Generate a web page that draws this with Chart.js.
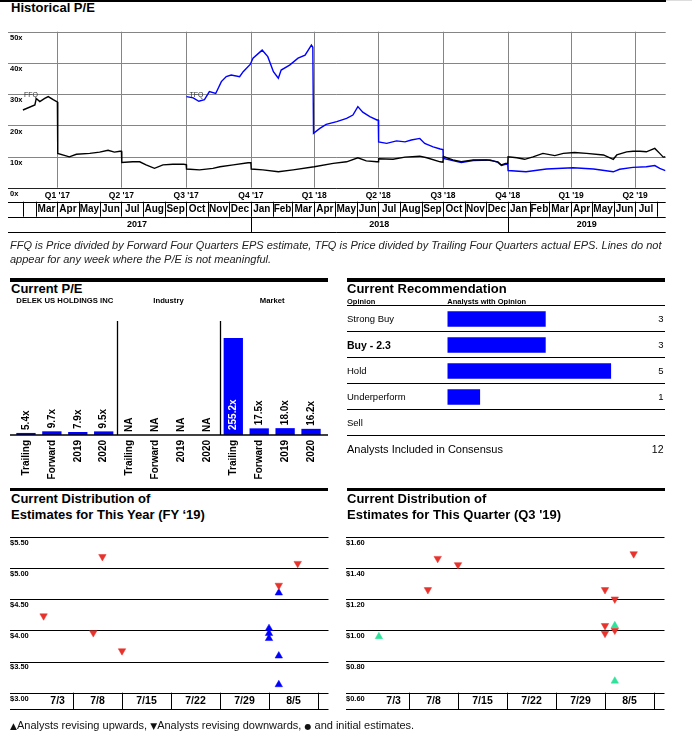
<!DOCTYPE html>
<html>
<head>
<meta charset="utf-8">
<script src="https://cdn.jsdelivr.net/npm/chart.js@4.4.1/dist/chart.umd.min.js"></script>
<style>
  body { margin: 0; width: 692px; height: 744px; background: #fff; position: relative; overflow: hidden;
         font-family: "Liberation Sans", Arial, sans-serif; color: #000; }
  canvas, .abs { position: absolute; }
  .title { font-weight: bold; font-size: 13px; line-height: 13px; white-space: nowrap; }
  .bar { background: #000; height: 3.4px; }
  .note { font-style: italic; font-size: 11px; line-height: 14px; color: #222; white-space: nowrap; }
  .rline { position: absolute; left: 347px; width: 318px; height: 1px; background: #000; }
  .rlab { position: absolute; left: 347px; height: 26px; line-height: 26px; font-size: 9.5px; white-space: nowrap; }
  .rnum { position: absolute; right: 28.5px; height: 26px; line-height: 26px; font-size: 9.5px; text-align: right; }
  .glyph { font-family: "DejaVu Sans", sans-serif; font-size: 9px; }
</style>
</head>
<body>
<div class="abs" style="left:0;top:0;width:666px;height:1.5px;background:#000"></div>
<div class="abs" style="left:666px;top:0;width:26px;height:1px;background:#ddd"></div>
<div class="abs title" style="left:11px;top:0.7px">Historical P/E</div>
<canvas id="hist" width="692" height="240" style="left:0;top:0"></canvas>
<div class="abs note" style="left:10px;top:238px">FFQ is Price divided by Forward Four Quarters EPS estimate, TFQ is Price divided by Trailing Four Quarters actual EPS. Lines do not<br>appear for any week where the P/E is not meaningful.</div>

<div class="abs bar" style="left:10px;top:278.3px;width:318px"></div>
<div class="abs title" style="left:11px;top:282.3px">Current P/E</div>
<canvas id="pe" width="340" height="195" style="left:0;top:290px"></canvas>

<div class="abs bar" style="left:347px;top:278.3px;width:318px"></div>
<div class="abs title" style="left:347px;top:282.3px">Current Recommendation</div>
<div class="abs" style="left:347px;top:297px;font-size:7.5px;font-weight:bold;line-height:9px">Opinion</div>
<div class="abs" style="left:447.3px;top:297px;font-size:7.5px;font-weight:bold;line-height:9px">Analysts with Opinion</div>
<div id="recRows"></div>
<canvas id="rec" width="230" height="130" style="left:440px;top:305.7px"></canvas>

<div class="abs bar" style="left:10px;top:488px;width:318px;height:3.3px"></div>
<div class="abs title" style="left:11px;top:491.3px;line-height:15.4px">Current Distribution of<br>Estimates for This Year (FY ‘19)</div>
<canvas id="fy" width="340" height="200" style="left:0;top:525px"></canvas>

<div class="abs bar" style="left:347px;top:488px;width:318px;height:3.3px"></div>
<div class="abs title" style="left:347px;top:491.3px;line-height:15.4px">Current Distribution of<br>Estimates for This Quarter (Q3 '19)</div>
<canvas id="q3" width="340" height="200" style="left:336.3px;top:525px"></canvas>

<div class="abs" style="left:10px;top:718px;font-size:11px;line-height:14px;white-space:nowrap;color:#111"><span class="glyph">▲</span>Analysts revising upwards, <span class="glyph">▼</span>Analysts revising downwards, <span class="glyph" style="font-size:8px">●</span> and initial estimates.</div>

<script>
const FONT = '"Liberation Sans", Arial, sans-serif';

// ---- Historical P/E (x = days since 1 Jan 2017) ----
const ffqDays = [41,58,60,65,72,77,84,89,90,90.5,107,117,136,150,162,171,179,181,181.5,197,207,216,228,240,254,269,273,273.5,292,311,321,340,361,365,365.5,382,404,425,455,482,501,517,529,544,546,546.5,567,584,605,615,634,638,638.5,652,664,681,700,716,721,727,730,730.5,743,754,766,780,797,809,825,842,866,880,885,899,908,918,927,939,946,951,954];
const ffqVals = [24.9,26.5,28.6,27.6,28.6,29.2,28.2,27.6,27.5,11.0,9.9,10.7,11.0,11.4,12.0,11.4,11.7,11.7,8.1,8.3,8.3,7.3,6.2,7.3,7.5,7.5,7.4,6.0,5.7,6.2,6.7,7.3,8.0,8.0,6.0,5.7,5.1,5.7,6.7,7.8,8.3,9.6,8.6,8.3,8.3,9.3,9.1,9.8,10.1,9.6,8.3,8.2,10.0,8.9,8.3,8.9,8.9,8.3,7.3,7.8,7.8,9.9,9.6,9.1,9.9,11.0,10.3,11.0,11.3,11.0,10.5,9.1,10.5,11.5,11.7,11.7,11.5,12.6,11.0,9.8,9.9];
const tfqDays = [273.5,283,291,299,306,315,323,330,337,349,354,364,368,381,389,397,404,408,420,432,442,451,453,454,463,472,487,501,510,517,524,534,544,546,546.5,558,572,584,593,605,612,624,634,638,638.5,664,681,705,716,721,727,730,730.5,756,785,823,852,880,889,908,927,939,946,954];
const tfqVals = [29.2,28.8,27.7,28.2,30.8,30.2,34.0,35.6,36.1,35.6,37.2,39.5,41.5,44.1,42.0,37.2,35.1,37.7,39.3,41.5,42.5,45.7,45.0,17.4,19.0,20.3,21.2,22.2,23.3,26.0,24.2,22.8,21.7,21.7,14.7,14.2,15.0,14.7,15.3,15.8,14.2,13.1,12.4,12.2,9.4,8.1,8.7,8.9,8.1,7.1,7.5,7.5,5.5,5.1,6.0,6.4,6.0,5.1,5.9,6.5,6.7,7.1,6.2,5.5];
const histTicks = [0,10,20,30,40,50];
const quarterDays = [90,181,273,365,455,546,638,730,820,911];
const quarterLabels = ["Q1 '17","Q2 '17","Q3 '17","Q4 '17","Q1 '18","Q2 '18","Q3 '18","Q4 '18","Q1 '19","Q2 '19"];
const monthLabels = ['Mar','Apr','May','Jun','Jul','Aug','Sep','Oct','Nov','Dec','Jan','Feb','Mar','Apr','May','Jun','Jul','Aug','Sep','Oct','Nov','Dec','Jan','Feb','Mar','Apr','May','Jun','Jul'];
const yearLabels = ['2017','2018','2019'];
const yearStarts = [365, 730];

// ---- Current P/E ----
const peCats = ['Trailing','Forward','2019','2020','Trailing','Forward','2019','2020','Trailing','Forward','2019','2020'];
const peVals = [5.4,9.7,7.9,9.5,null,null,null,null,255.2,17.5,18.0,16.2];
const peGroups = ['DELEK US HOLDINGS INC','Industry','Market'];

// ---- Recommendation ----
const recCats = ['Strong Buy','Buy - 2.3','Hold','Underperform','Sell'];
const recCounts = [3,3,5,1,0];
const recTotal = 12;

// ---- Distribution of estimates (x = day of July; 32 = 1 Aug) ----
const weekDays = [8,15,22,29,36,43];
const weekLabels = ['7/3','7/8','7/15','7/22','7/29','8/5'];
const weekLabelDays = [5.8,11.5,18.5,25.5,32.5,39.5];
const fyTicks = [3.0,3.5,4.0,4.5,5.0,5.5];
const fyUpX = [36.0,36.0,36.0,37.4,37.4,37.4];
const fyUpY = [4.03,3.95,3.87,4.60,3.59,3.13];
const fyDownX = [3.8,12.2,10.9,15.0,40.1,37.4];
const fyDownY = [4.23,5.18,3.96,3.67,5.07,4.72];
const q3Ticks = [0.6,0.8,1.0,1.2,1.4,1.6];
const q3UpX = [3.7,37.4,37.4];
const q3UpY = [0.96,1.03,0.675];
const q3DownX = [10.7,12.1,15.0,40.1,36.0,37.4,36.0,36.0,37.4];
const q3DownY = [1.26,1.46,1.42,1.49,1.26,1.20,1.03,0.98,1.00];

Chart.defaults.animation = false;
Chart.defaults.events = [];
Chart.defaults.plugins.legend.display = false;
Chart.defaults.plugins.tooltip.enabled = false;

function seg(ctx, x1, y1, x2, y2) {
  ctx.beginPath(); ctx.moveTo(x1, y1); ctx.lineTo(x2, y2); ctx.stroke();
}
function pts(xs, ys) { return xs.map((x, i) => ({ x: x, y: ys[i] })); }

// month boundaries from the calendar
const dayMs = 86400000;
const monthStarts = [];
for (let i = 0; i <= monthLabels.length; i++) {
  monthStarts.push(Math.round((Date.UTC(2017, 2 + i, 1) - Date.UTC(2017, 0, 1)) / dayMs));
}

const histDecor = {
  id: 'histDecor',
  beforeDatasetsDraw(chart) {
    const { ctx, chartArea: a, scales: { x, y } } = chart;
    ctx.save();
    ctx.lineWidth = 1;
    histTicks.forEach(v => {
      const py = Math.round(y.getPixelForValue(v)) + 0.5;
      ctx.strokeStyle = v === 0 ? '#222' : '#858585';
      seg(ctx, a.left, py, a.right, py);
    });
    ctx.strokeStyle = '#858585';
    quarterDays.forEach(d => {
      const px = Math.round(x.getPixelForValue(d)) + 0.5;
      seg(ctx, px, a.top, px, a.bottom);
    });
    ctx.restore();
  },
  afterDatasetsDraw(chart) {
    const { ctx, chartArea: a, scales: { x, y } } = chart;
    ctx.save();
    ctx.fillStyle = '#000';
    ctx.font = 'bold 7.5px ' + FONT;
    ctx.textBaseline = 'top';
    histTicks.forEach(v => ctx.fillText(v + 'x', 10, y.getPixelForValue(v) + 2.5));

    // series labels
    ctx.font = '7px ' + FONT;
    ctx.fillStyle = '#333';
    ctx.textBaseline = 'middle';
    ctx.fillText('FFQ', x.getPixelForValue(ffqDays[0]) + 1, y.getPixelForValue(30) + 1);
    ctx.fillText('TFQ', x.getPixelForValue(tfqDays[0]) + 3, y.getPixelForValue(30) + 1);

    // quarter labels
    ctx.fillStyle = '#000';
    ctx.font = 'bold 8.5px ' + FONT;
    ctx.textAlign = 'center';
    quarterDays.forEach((d, i) => ctx.fillText(quarterLabels[i], x.getPixelForValue(d), a.bottom + 7.5));

    // month row
    const r1 = a.bottom + 14, r2 = a.bottom + 29, r3 = a.bottom + 44.5;
    ctx.strokeStyle = '#000';
    ctx.lineWidth = 1;
    [r1, r2, r3].forEach(ry => seg(ctx, a.left, Math.round(ry) + 0.5, a.right, Math.round(ry) + 0.5));
    const start = ffqDays[0];
    [start].concat(monthStarts).forEach(d => {
      const px = Math.round(x.getPixelForValue(d)) + 0.5;
      seg(ctx, px, r1, px, r2);
    });
    ctx.font = 'bold 10px ' + FONT;
    monthLabels.forEach((m, i) => {
      const cx = (x.getPixelForValue(monthStarts[i]) + x.getPixelForValue(monthStarts[i + 1])) / 2;
      ctx.fillText(m, cx, (r1 + r2) / 2 + 0.5);
    });

    // year row
    yearStarts.forEach(d => {
      const px = Math.round(x.getPixelForValue(d)) + 0.5;
      seg(ctx, px, r2, px, r3);
    });
    ctx.font = 'bold 9px ' + FONT;
    const yb = [start].concat(yearStarts).concat([x.max]);
    yearLabels.forEach((t, i) => {
      const cx = (x.getPixelForValue(yb[i]) + x.getPixelForValue(yb[i + 1])) / 2;
      ctx.fillText(t, cx, (r2 + r3) / 2 + 0.5);
    });
    ctx.restore();
  }
};

new Chart(document.getElementById('hist'), {
  type: 'line',
  data: {
    datasets: [
      { label: 'FFQ', data: pts(ffqDays, ffqVals), borderColor: '#000', borderWidth: 1.4, pointRadius: 0 },
      { label: 'TFQ', data: pts(tfqDays, tfqVals), borderColor: '#0000ff', borderWidth: 1.4, pointRadius: 0 }
    ]
  },
  options: {
    responsive: false,
    layout: { padding: { left: 8, right: 26.3, top: 31.7, bottom: 52.3 } },
    scales: {
      x: { type: 'linear', min: 19.8, max: 954.5, display: false },
      y: { min: 0, max: 50, display: false }
    }
  },
  plugins: [histDecor]
});

// ---- Current P/E bars ----
const peDecor = {
  id: 'peDecor',
  afterDatasetsDraw(chart) {
    const { ctx, chartArea: a, scales: { x, y } } = chart;
    const base = y.getPixelForValue(0);
    ctx.save();
    ctx.strokeStyle = '#000';
    ctx.lineWidth = 1.3;
    seg(ctx, 10, base, 328, base);
    [4, 8].forEach(i => {
      const px = Math.round((x.getPixelForValue(i - 1) + x.getPixelForValue(i)) / 2) + 0.5;
      seg(ctx, px, a.top, px, base);
    });
    ctx.font = 'bold 10px ' + FONT;
    ctx.textBaseline = 'middle';
    peCats.forEach((c, i) => {
      const px = x.getPixelForValue(i);
      ctx.save();
      ctx.translate(px, base + 5);
      ctx.rotate(-Math.PI / 2);
      ctx.textAlign = 'right';
      ctx.fillStyle = '#000';
      ctx.fillText(c, 0, 0);
      ctx.restore();

      const v = peVals[i];
      const top = v == null ? base : y.getPixelForValue(v);
      const inside = v != null && base - top > 40;
      const txt = v == null ? 'NA' : v.toFixed(1) + 'x';
      ctx.save();
      ctx.translate(px, inside ? base - 5 : top - 3);
      ctx.rotate(-Math.PI / 2);
      ctx.textAlign = 'left';
      ctx.fillStyle = inside ? '#fff' : '#000';
      ctx.fillText(txt, 0, 0);
      ctx.restore();
    });
    ctx.font = 'bold 7.7px ' + FONT;
    ctx.textAlign = 'center';
    ctx.fillStyle = '#000';
    peGroups.forEach((g, k) => {
      const cx = (x.getPixelForValue(4 * k) + x.getPixelForValue(4 * k + 3)) / 2;
      ctx.fillText(g, cx, 11);
    });
    ctx.restore();
  }
};

new Chart(document.getElementById('pe'), {
  type: 'bar',
  data: {
    labels: peCats,
    datasets: [{ data: peVals, backgroundColor: '#0000ff', barPercentage: 0.745, categoryPercentage: 1 }]
  },
  options: {
    responsive: false,
    layout: { padding: { left: 13, right: 16, top: 31, bottom: 50 } },
    scales: { x: { display: false }, y: { min: 0, max: 300, display: false } }
  },
  plugins: [peDecor]
});

// ---- Recommendation rows ----
const rows = document.getElementById('recRows');
let html = '';
const rTop = 305.7;
for (let k = 0; k <= recCats.length; k++) {
  html += '<div class="rline" style="top:' + (rTop + 26 * k - 0.5) + 'px"></div>';
}
recCats.forEach((c, k) => {
  const bold = k === 1 ? 'font-weight:bold;font-size:10.5px;' : '';
  html += '<div class="rlab" style="top:' + (rTop + 26 * k) + 'px;' + bold + '">' + c + '</div>';
  if (recCounts[k]) html += '<div class="rnum" style="top:' + (rTop + 26 * k) + 'px">' + recCounts[k] + '</div>';
});
const kc = recCats.length;
html += '<div class="rlab" style="top:' + (rTop + 26 * kc) + 'px;font-size:11px">Analysts Included in Consensus</div>';
html += '<div class="rnum" style="top:' + (rTop + 26 * kc) + 'px;font-size:10.5px">' + recTotal + '</div>';
rows.innerHTML = html;

new Chart(document.getElementById('rec'), {
  type: 'bar',
  data: {
    labels: recCats,
    datasets: [{ data: recCounts, backgroundColor: '#0000ff', barPercentage: 0.6, categoryPercentage: 1 }]
  },
  options: {
    indexAxis: 'y',
    responsive: false,
    layout: { padding: { left: 7.3, right: 58.7, top: 0, bottom: 0 } },
    scales: { x: { min: 0, max: 5, display: false }, y: { display: false } }
  }
});

// ---- Distribution charts ----
function distDecor(ticks) {
  return {
    id: 'distDecor',
    beforeDatasetsDraw(chart) {
      const { ctx, chartArea: a, scales: { x, y } } = chart;
      ctx.save();
      ctx.strokeStyle = '#000';
      ctx.lineWidth = 1;
      ticks.forEach(v => {
        const py = Math.round(y.getPixelForValue(v)) + 0.5;
        seg(ctx, a.left, py, a.right, py);
      });
      const rb = Math.round(a.bottom + 16.3) + 0.5;
      seg(ctx, a.left, rb, a.right, rb);
      weekDays.forEach(d => {
        const px = Math.round(x.getPixelForValue(d)) + 0.5;
        seg(ctx, px, a.bottom, px, rb);
      });
      ctx.fillStyle = '#000';
      ctx.font = 'bold 7.5px ' + FONT;
      ctx.textBaseline = 'top';
      ticks.forEach(v => ctx.fillText('$' + v.toFixed(2), a.left, y.getPixelForValue(v) + 2));
      ctx.font = 'bold 10.5px ' + FONT;
      ctx.textAlign = 'center';
      ctx.textBaseline = 'middle';
      weekLabels.forEach((t, i) => ctx.fillText(t, x.getPixelForValue(weekLabelDays[i]), a.bottom + 8.5));
      ctx.restore();
    }
  };
}

function distChart(id, ticks, upX, upY, upColor, downX, downY) {
  new Chart(document.getElementById(id), {
    type: 'scatter',
    data: {
      datasets: [
        { data: pts(downX, downY), pointStyle: 'triangle', pointRotation: 180, pointRadius: 4.3,
          backgroundColor: '#e8322c', borderColor: '#e8322c', borderWidth: 0.5 },
        { data: pts(upX, upY), pointStyle: 'triangle', pointRadius: 4.3,
          backgroundColor: upColor, borderColor: upColor, borderWidth: 0.5 }
      ]
    },
    options: {
      responsive: false,
      layout: { padding: { left: 10, right: 11.5, top: 11.7, bottom: 32.3 } },
      scales: {
        x: { type: 'linear', min: -1, max: 44.5, display: false },
        y: { min: ticks[0], max: ticks[ticks.length - 1], display: false }
      }
    },
    plugins: [distDecor(ticks)]
  });
}

distChart('fy', fyTicks, fyUpX, fyUpY, '#0000ff', fyDownX, fyDownY);
distChart('q3', q3Ticks, q3UpX, q3UpY, '#2fe39a', q3DownX, q3DownY);
</script>
</body>
</html>
